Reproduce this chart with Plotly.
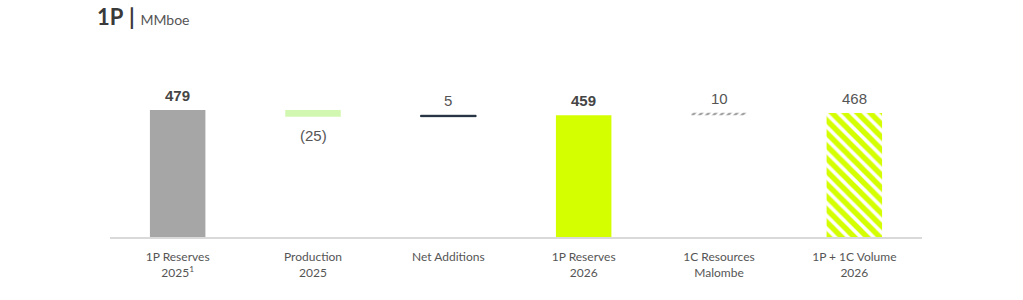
import plotly.graph_objects as go

categories = ["1P Reserves<br>2025<sup>1</sup>", "Production<br>2025", "Net Additions",
              "1P Reserves<br>2026", "1C Resources<br>Malombe", "1P + 1C Volume<br>2026"]
values = [479, -25, 5, 459, 10, 468]
kinds = ["total", "delta", "delta", "total", "delta", "total"]
labels = ["479", "(25)", "5", "459", "10", "468"]

colors = ["#a6a6a6", "#d2f7b0", "#1f2d3d", "#d4ff00", "#ffffff", "#ffffff"]
pattern_shapes = ["", "", "", "", "/", "\\"]
pattern_fg = ["#a6a6a6", "#d2f7b0", "#1f2d3d", "#d4ff00", "#a0a0a0", "#d4ff00"]
pattern_size = [8, 8, 8, 8, 5, 9]
pattern_solid = [0.3, 0.3, 0.3, 0.3, 0.5, 0.6]
line_w = [0, 0, 1, 0, 0, 0]
bold = [True, False, False, True, False, False]

# compute bases from values
bases, heights = [], []
running = 0
for v, k in zip(values, kinds):
    if k == "total":
        bases.append(0)
        heights.append(v)
        running = v
    else:
        if v < 0:
            bases.append(running + v)
            heights.append(-v)
        else:
            bases.append(running)
            heights.append(v)
        running += v

fig = go.Figure()
for i, c in enumerate(categories):
    marker = dict(color=colors[i], line=dict(width=line_w[i], color=colors[i]), opacity=1)
    if pattern_shapes[i]:
        marker["pattern"] = dict(shape=pattern_shapes[i], fgcolor=pattern_fg[i],
                                 bgcolor=colors[i], size=pattern_size[i], fgopacity=1,
                                 solidity=pattern_solid[i], fillmode="overlay")
    fig.add_trace(go.Bar(x=[c], y=[heights[i]], base=[bases[i]], width=0.41,
                         marker=marker, hoverinfo="skip"))

for i, (c, lab) in enumerate(zip(categories, labels)):
    if values[i] < 0:
        y = bases[i]
        yanchor, yshift = "top", -8
    else:
        y = bases[i] + heights[i]
        yanchor, yshift = "bottom", 4
    fig.add_annotation(x=c, y=y, text=f"<b>{lab}</b>" if bold[i] else lab,
                       showarrow=False, yanchor=yanchor, yshift=yshift,
                       font=dict(family="Liberation Sans, Arial", size=15,
                                 color="#454545" if bold[i] else "#555555"))

fig.update_layout(
    width=1023, height=300,
    margin=dict(l=110, r=101, t=40, b=63),
    paper_bgcolor="white", plot_bgcolor="white",
    showlegend=False, barmode="overlay",
    title=dict(text="<b>1P</b> <b>|</b> <span style='font-size:14px;color:#555555'>MMboe</span>",
               x=97/1023, xanchor="left", y=1 - 17/300, yanchor="middle",
               font=dict(family="Lato, Liberation Sans", size=22, color="#3a3a3a")),
    xaxis=dict(showline=True, linecolor="#d9d9d9", linewidth=2, ticks="",
               ticklabelstandoff=8,
               tickfont=dict(family="Lato, Liberation Sans", size=12, color="#555555"),
               showgrid=False, fixedrange=True),
    yaxis=dict(range=[0, 743], visible=False, showgrid=False, zeroline=False),
)

fig.write_html("out.html")
